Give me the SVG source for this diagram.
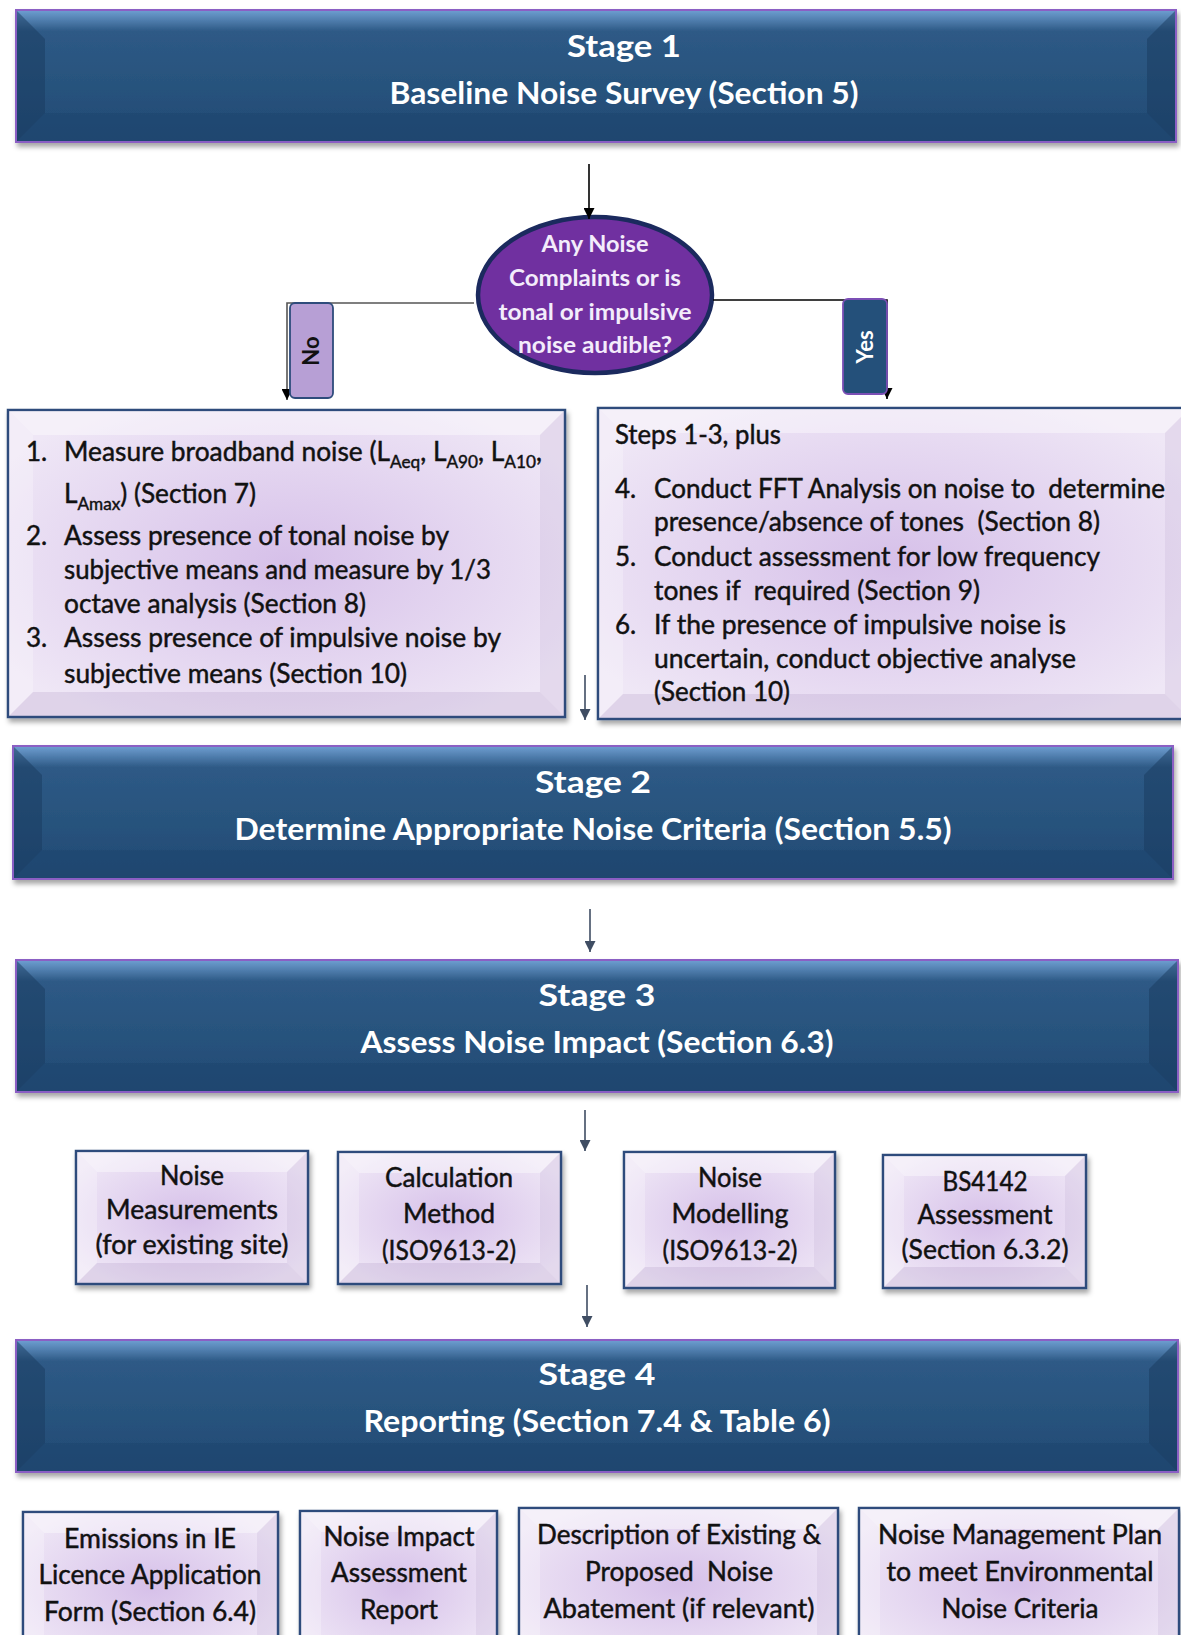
<svg xmlns="http://www.w3.org/2000/svg" width="1181" height="1635" viewBox="0 0 1181 1635">
  <defs>
    <linearGradient id="stageFill" x1="0" y1="0" x2="0" y2="1">
      <stop offset="0" stop-color="#6F9FD2"/>
      <stop offset="0.16" stop-color="#2E5A86"/>
      <stop offset="0.6" stop-color="#27527C"/>
      <stop offset="1" stop-color="#214A74"/>
    </linearGradient>
    <radialGradient id="boxFill" cx="0.5" cy="0.5" r="0.6">
      <stop offset="0" stop-color="#D6C0E9"/>
      <stop offset="1" stop-color="#EFE7F6"/>
    </radialGradient>
    <filter id="shadow" x="-5%" y="-5%" width="110%" height="115%">
      <feDropShadow dx="2" dy="4" stdDeviation="2.5" flood-color="#000" flood-opacity="0.35"/>
    </filter>
    <marker id="headBlack" viewBox="0 0 10 10" refX="10" refY="5" markerWidth="11" markerHeight="11" markerUnits="userSpaceOnUse" orient="auto">
      <path d="M0,0 L10,5 L0,10 z" fill="#000"/>
    </marker>
    <marker id="headSlate" viewBox="0 0 10 10" refX="10" refY="5" markerWidth="11" markerHeight="11" markerUnits="userSpaceOnUse" orient="auto">
      <path d="M0,0 L10,5 L0,10 z" fill="#3F4D63"/>
    </marker>
  </defs>
  <style>
    .stage { fill: url(#stageFill); stroke: #8B5EC4; stroke-width: 2; filter: url(#shadow); }
    .sideDark { fill: #183A5E; opacity: 0.5; }
    .botDark { fill: #1A4067; opacity: 0.3; }
    .box { fill: url(#boxFill); stroke: #2E4C7C; stroke-width: 2.5; filter: url(#shadow); }
    .faceTop { fill: #FFFFFF; opacity: 0.4; }
    .faceLeft { fill: #FFFFFF; opacity: 0.25; }
    .faceRight { fill: #B9A3CF; opacity: 0.2; }
    .faceBot { fill: #9E86B8; opacity: 0.2; }
    .stageT { font-family: Lato, "Liberation Sans", sans-serif; font-weight: 700; font-size: 31px; fill: #FFFFFF; text-anchor: middle; }
    .txt { font-family: Lato, "Liberation Sans", sans-serif; font-size: 26px; fill: #111111; stroke: #111111; stroke-width: 0.45px; }
    .ctr { text-anchor: middle; }
    .sub { font-size: 17px; }
    .ellT { font-family: Lato, "Liberation Sans", sans-serif; font-weight: 700; font-size: 23px; fill: #F3ECFB; text-anchor: middle; }
    .lbl { font-family: Lato, "Liberation Sans", sans-serif; font-weight: 700; font-size: 22px; text-anchor: middle; }
    .conn { fill: none; stroke-width: 1.6; }
  </style>

  <rect width="1181" height="1635" fill="#FFFFFF"/>

  <!-- Stage 1 -->
  <g id="stage1">
    <rect class="stage" x="16" y="10" width="1160" height="132"/>
    <polygon class="sideDark" points="17,11 45,39 45,113 17,141"/>
    <polygon class="sideDark" points="1175,11 1147,39 1147,113 1175,141"/>
    <polygon class="botDark" points="17,141 45,113 1147,113 1175,141"/>
    <text class="stageT" x="624" y="57" textLength="114" lengthAdjust="spacingAndGlyphs">Stage 1</text>
    <text class="stageT" x="624" y="104" textLength="469" lengthAdjust="spacingAndGlyphs">Baseline Noise Survey (Section 5)</text>
  </g>

  <!-- Decision -->
  <g id="decision">
    <ellipse cx="595" cy="295" rx="117" ry="78" fill="#7030A0" stroke="#1B2A5E" stroke-width="4.5"/>
    <text class="ellT" x="595" y="252" textLength="107" lengthAdjust="spacingAndGlyphs">Any Noise</text>
    <text class="ellT" x="595" y="286" textLength="172" lengthAdjust="spacingAndGlyphs">Complaints or is</text>
    <text class="ellT" x="595" y="320" textLength="193" lengthAdjust="spacingAndGlyphs">tonal or impulsive</text>
    <text class="ellT" x="595" y="353" textLength="154" lengthAdjust="spacingAndGlyphs">noise audible?</text>
  </g>

  <!-- Connectors -->
  <g id="connectors">
    <line class="conn" x1="589" y1="164" x2="589" y2="219" stroke="#000" marker-end="url(#headBlack)"/>
    <polyline class="conn" points="474,303 287,303 287,400" stroke="#555" marker-end="url(#headBlack)"/>
    <polyline class="conn" points="713,300 887,300 887,399" stroke="#000" marker-end="url(#headBlack)"/>
    <line class="conn" x1="585" y1="675" x2="585" y2="720" stroke="#3F4D63" marker-end="url(#headSlate)"/>
    <line class="conn" x1="590" y1="909" x2="590" y2="952" stroke="#3F4D63" marker-end="url(#headSlate)"/>
    <line class="conn" x1="585" y1="1110" x2="585" y2="1151" stroke="#3F4D63" marker-end="url(#headSlate)"/>
    <line class="conn" x1="587" y1="1285" x2="587" y2="1327" stroke="#3F4D63" marker-end="url(#headSlate)"/>
  </g>

  <!-- Branch labels -->
  <g id="label-no">
    <rect x="290" y="303" width="43" height="95" rx="5" fill="#B79FD5" stroke="#2E4C7C" stroke-width="1.8"/>
    <text class="lbl" x="0" y="0" fill="#111" transform="translate(319,351) rotate(-90)">No</text>
  </g>
  <g id="label-yes">
    <rect x="843" y="299" width="44" height="95" rx="5" fill="#24507A" stroke="#7B4FB5" stroke-width="1.8"/>
    <text class="lbl" x="0" y="0" fill="#FFFFFF" transform="translate(873,347) rotate(-90)">Yes</text>
  </g>

  <!-- No path steps -->
  <g id="steps-no">
    <rect class="box" x="8" y="410" width="557" height="307"/>
    <polygon class="faceTop" points="9,411 564,411 540,435 33,435"/>
    <polygon class="faceLeft" points="9,411 33,435 33,692 9,716"/>
    <polygon class="faceRight" points="564,411 540,435 540,692 564,716"/>
    <polygon class="faceBot" points="9,716 33,692 540,692 564,716"/>
    <text class="txt" x="26" y="461">1.</text>
    <text class="txt" x="64" y="461" textLength="478" lengthAdjust="spacingAndGlyphs">Measure broadband noise (L<tspan class="sub" dy="7">Aeq</tspan><tspan dy="-7">, L</tspan><tspan class="sub" dy="7">A90</tspan><tspan dy="-7">, L</tspan><tspan class="sub" dy="7">A10</tspan><tspan dy="-7">,</tspan></text>
    <text class="txt" x="64" y="503" textLength="192" lengthAdjust="spacingAndGlyphs">L<tspan class="sub" dy="7">Amax</tspan><tspan dy="-7">) (Section 7)</tspan></text>
    <text class="txt" x="26" y="545">2.</text>
    <text class="txt" x="64" y="545" textLength="385" lengthAdjust="spacingAndGlyphs">Assess presence of tonal noise by</text>
    <text class="txt" x="64" y="579" textLength="427" lengthAdjust="spacingAndGlyphs">subjective means and measure by 1/3</text>
    <text class="txt" x="64" y="613" textLength="302" lengthAdjust="spacingAndGlyphs">octave analysis (Section 8)</text>
    <text class="txt" x="26" y="647">3.</text>
    <text class="txt" x="64" y="647" textLength="437" lengthAdjust="spacingAndGlyphs">Assess presence of impulsive noise by</text>
    <text class="txt" x="64" y="683" textLength="343" lengthAdjust="spacingAndGlyphs">subjective means (Section 10)</text>
  </g>

  <!-- Yes path steps -->
  <g id="steps-yes">
    <rect class="box" x="598" y="408" width="592" height="311"/>
    <polygon class="faceTop" points="599,409 1189,409 1165,433 623,433"/>
    <polygon class="faceLeft" points="599,409 623,433 623,694 599,718"/>
    <polygon class="faceRight" points="1189,409 1165,433 1165,694 1189,718"/>
    <polygon class="faceBot" points="599,718 623,694 1165,694 1189,718"/>
    <text class="txt" x="615" y="444" textLength="166" lengthAdjust="spacingAndGlyphs">Steps 1-3, plus</text>
    <text class="txt" x="615" y="498">4.</text>
    <text class="txt" x="654" y="498" xml:space="preserve" textLength="511" lengthAdjust="spacingAndGlyphs">Conduct FFT Analysis on noise to  determine</text>
    <text class="txt" x="654" y="531" xml:space="preserve" textLength="446" lengthAdjust="spacingAndGlyphs">presence/absence of tones  (Section 8)</text>
    <text class="txt" x="615" y="566">5.</text>
    <text class="txt" x="654" y="566" textLength="446" lengthAdjust="spacingAndGlyphs">Conduct assessment for low frequency</text>
    <text class="txt" x="654" y="600" xml:space="preserve" textLength="326" lengthAdjust="spacingAndGlyphs">tones if  required (Section 9)</text>
    <text class="txt" x="615" y="634">6.</text>
    <text class="txt" x="654" y="634" textLength="412" lengthAdjust="spacingAndGlyphs">If the presence of impulsive noise is</text>
    <text class="txt" x="654" y="668" textLength="422" lengthAdjust="spacingAndGlyphs">uncertain, conduct objective analyse</text>
    <text class="txt" x="654" y="701" textLength="136" lengthAdjust="spacingAndGlyphs">(Section 10)</text>
  </g>

  <!-- Stage 2 -->
  <g id="stage2">
    <rect class="stage" x="13" y="746" width="1160" height="133"/>
    <polygon class="sideDark" points="14,747 42,775 42,850 14,878"/>
    <polygon class="sideDark" points="1172,747 1144,775 1144,850 1172,878"/>
    <polygon class="botDark" points="14,878 42,850 1144,850 1172,878"/>
    <text class="stageT" x="593" y="793" textLength="116" lengthAdjust="spacingAndGlyphs">Stage 2</text>
    <text class="stageT" x="593" y="840" textLength="717" lengthAdjust="spacingAndGlyphs">Determine Appropriate Noise Criteria (Section 5.5)</text>
  </g>

  <!-- Stage 3 -->
  <g id="stage3">
    <rect class="stage" x="16" y="960" width="1162" height="132"/>
    <polygon class="sideDark" points="17,961 45,989 45,1063 17,1091"/>
    <polygon class="sideDark" points="1177,961 1149,989 1149,1063 1177,1091"/>
    <polygon class="botDark" points="17,1091 45,1063 1149,1063 1177,1091"/>
    <text class="stageT" x="597" y="1006" textLength="117" lengthAdjust="spacingAndGlyphs">Stage 3</text>
    <text class="stageT" x="597" y="1053" textLength="473" lengthAdjust="spacingAndGlyphs">Assess Noise Impact (Section 6.3)</text>
  </g>

  <!-- Assessment methods -->
  <g id="method-measurements">
    <rect class="box" x="76" y="1151" width="232" height="133"/>
    <polygon class="faceTop" points="77,1152 307,1152 287,1172 97,1172"/>
    <polygon class="faceLeft" points="77,1152 97,1172 97,1263 77,1283"/>
    <polygon class="faceRight" points="307,1152 287,1172 287,1263 307,1283"/>
    <polygon class="faceBot" points="77,1283 97,1263 287,1263 307,1283"/>
    <text class="txt ctr" x="192" y="1185" textLength="64" lengthAdjust="spacingAndGlyphs">Noise</text>
    <text class="txt ctr" x="192" y="1219" textLength="172" lengthAdjust="spacingAndGlyphs">Measurements</text>
    <text class="txt ctr" x="192" y="1254" textLength="193" lengthAdjust="spacingAndGlyphs">(for existing site)</text>
  </g>
  <g id="method-calculation">
    <rect class="box" x="338" y="1152" width="223" height="132"/>
    <polygon class="faceTop" points="339,1153 560,1153 540,1173 359,1173"/>
    <polygon class="faceLeft" points="339,1153 359,1173 359,1263 339,1283"/>
    <polygon class="faceRight" points="560,1153 540,1173 540,1263 560,1283"/>
    <polygon class="faceBot" points="339,1283 359,1263 540,1263 560,1283"/>
    <text class="txt ctr" x="449" y="1187" textLength="128" lengthAdjust="spacingAndGlyphs">Calculation</text>
    <text class="txt ctr" x="449" y="1223" textLength="92" lengthAdjust="spacingAndGlyphs">Method</text>
    <text class="txt ctr" x="449" y="1260" textLength="134" lengthAdjust="spacingAndGlyphs">(ISO9613-2)</text>
  </g>
  <g id="method-modelling">
    <rect class="box" x="624" y="1152" width="211" height="136"/>
    <polygon class="faceTop" points="625,1153 834,1153 814,1173 645,1173"/>
    <polygon class="faceLeft" points="625,1153 645,1173 645,1267 625,1287"/>
    <polygon class="faceRight" points="834,1153 814,1173 814,1267 834,1287"/>
    <polygon class="faceBot" points="625,1287 645,1267 814,1267 834,1287"/>
    <text class="txt ctr" x="730" y="1187" textLength="64" lengthAdjust="spacingAndGlyphs">Noise</text>
    <text class="txt ctr" x="730" y="1223" textLength="117" lengthAdjust="spacingAndGlyphs">Modelling</text>
    <text class="txt ctr" x="730" y="1260" textLength="135" lengthAdjust="spacingAndGlyphs">(ISO9613-2)</text>
  </g>
  <g id="method-bs4142">
    <rect class="box" x="883" y="1155" width="203" height="133"/>
    <polygon class="faceTop" points="884,1156 1085,1156 1065,1176 904,1176"/>
    <polygon class="faceLeft" points="884,1156 904,1176 904,1267 884,1287"/>
    <polygon class="faceRight" points="1085,1156 1065,1176 1065,1267 1085,1287"/>
    <polygon class="faceBot" points="884,1287 904,1267 1065,1267 1085,1287"/>
    <text class="txt ctr" x="985" y="1191" textLength="85" lengthAdjust="spacingAndGlyphs">BS4142</text>
    <text class="txt ctr" x="985" y="1224" textLength="135" lengthAdjust="spacingAndGlyphs">Assessment</text>
    <text class="txt ctr" x="985" y="1259" textLength="167" lengthAdjust="spacingAndGlyphs">(Section 6.3.2)</text>
  </g>

  <!-- Stage 4 -->
  <g id="stage4">
    <rect class="stage" x="16" y="1340" width="1162" height="132"/>
    <polygon class="sideDark" points="17,1341 45,1369 45,1443 17,1471"/>
    <polygon class="sideDark" points="1177,1341 1149,1369 1149,1443 1177,1471"/>
    <polygon class="botDark" points="17,1471 45,1443 1149,1443 1177,1471"/>
    <text class="stageT" x="597" y="1385" textLength="117" lengthAdjust="spacingAndGlyphs">Stage 4</text>
    <text class="stageT" x="597" y="1432" textLength="467" lengthAdjust="spacingAndGlyphs">Reporting (Section 7.4 &amp; Table 6)</text>
  </g>

  <!-- Reporting outputs -->
  <g id="output-licence">
    <rect class="box" x="23" y="1512" width="255" height="150"/>
    <polygon class="faceTop" points="24,1513 277,1513 257,1533 44,1533"/>
    <polygon class="faceLeft" points="24,1513 44,1533 44,1661 24,1661"/>
    <polygon class="faceRight" points="277,1513 257,1533 257,1661 277,1661"/>
    <text class="txt ctr" x="150" y="1548" textLength="172" lengthAdjust="spacingAndGlyphs">Emissions in IE</text>
    <text class="txt ctr" x="150" y="1584" textLength="223" lengthAdjust="spacingAndGlyphs">Licence Application</text>
    <text class="txt ctr" x="150" y="1621" textLength="212" lengthAdjust="spacingAndGlyphs">Form (Section 6.4)</text>
  </g>
  <g id="output-report">
    <rect class="box" x="300" y="1511" width="197" height="150"/>
    <polygon class="faceTop" points="301,1512 496,1512 476,1532 321,1532"/>
    <polygon class="faceLeft" points="301,1512 321,1532 321,1660 301,1660"/>
    <polygon class="faceRight" points="496,1512 476,1532 476,1660 496,1660"/>
    <text class="txt ctr" x="399" y="1546" textLength="151" lengthAdjust="spacingAndGlyphs">Noise Impact</text>
    <text class="txt ctr" x="399" y="1582" textLength="136" lengthAdjust="spacingAndGlyphs">Assessment</text>
    <text class="txt ctr" x="399" y="1619" textLength="78" lengthAdjust="spacingAndGlyphs">Report</text>
  </g>
  <g id="output-abatement">
    <rect class="box" x="519" y="1508" width="319" height="152"/>
    <polygon class="faceTop" points="520,1509 837,1509 817,1529 540,1529"/>
    <polygon class="faceLeft" points="520,1509 540,1529 540,1659 520,1659"/>
    <polygon class="faceRight" points="837,1509 817,1529 817,1659 837,1659"/>
    <text class="txt ctr" x="679" y="1544" textLength="284" lengthAdjust="spacingAndGlyphs">Description of Existing &amp;</text>
    <text class="txt ctr" x="679" y="1581" xml:space="preserve" textLength="188" lengthAdjust="spacingAndGlyphs">Proposed  Noise</text>
    <text class="txt ctr" x="679" y="1618" textLength="271" lengthAdjust="spacingAndGlyphs">Abatement (if relevant)</text>
  </g>
  <g id="output-plan">
    <rect class="box" x="859" y="1508" width="320" height="152"/>
    <polygon class="faceTop" points="860,1509 1178,1509 1158,1529 880,1529"/>
    <polygon class="faceLeft" points="860,1509 880,1529 880,1659 860,1659"/>
    <polygon class="faceRight" points="1178,1509 1158,1529 1158,1659 1178,1659"/>
    <text class="txt ctr" x="1020" y="1544" textLength="284" lengthAdjust="spacingAndGlyphs">Noise Management Plan</text>
    <text class="txt ctr" x="1020" y="1581" textLength="267" lengthAdjust="spacingAndGlyphs">to meet Environmental</text>
    <text class="txt ctr" x="1020" y="1618" textLength="157" lengthAdjust="spacingAndGlyphs">Noise Criteria</text>
  </g>
</svg>
